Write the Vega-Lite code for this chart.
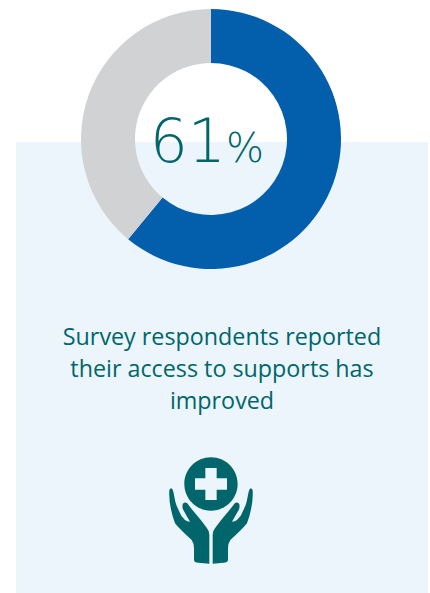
{
  "$schema": "https://vega.github.io/schema/vega-lite/v6.json",
  "width": 430,
  "height": 593,
  "padding": 0,
  "autosize": {"type": "fit", "contains": "padding"},
  "background": "white",
  "view": {"stroke": null},
  "datasets": {
    "survey": [
      {"response": "Access improved", "share": 61},
      {"response": "Other", "share": 39}
    ],
    "headline": [{"whole": "61", "unit": "%"}],
    "caption": [
      {"line": "Survey respondents reported", "row": 338},
      {"line": "their access to supports has", "row": 370},
      {"line": "improved", "row": 402}
    ],
    "panel": [{"left": 16, "right": 428, "top": 142, "bottom": 593}],
    "emblem": [{"name": "hands holding a medical cross"}]
  },
  "layer": [
    {
      "data": {"name": "panel"},
      "mark": {"type": "rect", "color": "#ecf5fb"},
      "encoding": {
        "x": {"field": "left", "type": "quantitative", "scale": {"domain": [0, 430], "nice": false, "zero": false}, "axis": null},
        "x2": {"field": "right"},
        "y": {"field": "top", "type": "quantitative", "scale": {"domain": [593, 0], "nice": false, "zero": false}, "axis": null},
        "y2": {"field": "bottom"}
      }
    },
    {
      "data": {"name": "survey"},
      "mark": {"type": "arc", "radius": 130, "radius2": 76},
      "encoding": {
        "x": {"datum": 211, "type": "quantitative"},
        "y": {"datum": 139, "type": "quantitative"},
        "theta": {"field": "share", "type": "quantitative", "stack": true},
        "order": {"field": "share", "sort": "descending"},
        "color": {
          "field": "response",
          "type": "nominal",
          "scale": {"domain": ["Access improved", "Other"], "range": ["#035eac", "#d0d2d4"]},
          "legend": null
        }
      }
    },
    {
      "data": {"name": "headline"},
      "mark": {"type": "text", "font": "DejaVu Sans", "fontWeight": 200, "fontSize": 60, "align": "right", "baseline": "alphabetic", "color": "#00666b"},
      "encoding": {
        "x": {"datum": 226, "type": "quantitative"},
        "y": {"datum": 162, "type": "quantitative"},
        "text": {"field": "whole"}
      }
    },
    {
      "data": {"name": "headline"},
      "mark": {"type": "text", "font": "DejaVu Sans", "fontWeight": 200, "fontSize": 40, "align": "left", "baseline": "alphabetic", "color": "#00666b"},
      "encoding": {
        "x": {"datum": 226, "type": "quantitative"},
        "y": {"datum": 162, "type": "quantitative"},
        "text": {"field": "unit"}
      }
    },
    {
      "data": {"name": "caption"},
      "mark": {"type": "text", "font": "Open Sans", "fontSize": 23.3, "align": "center", "baseline": "middle", "color": "#00666b"},
      "encoding": {
        "x": {"datum": 222, "type": "quantitative"},
        "y": {"field": "row", "type": "quantitative"},
        "text": {"field": "line"}
      }
    },
    {
      "data": {"name": "emblem"},
      "mark": {
        "type": "point",
        "filled": true,
        "opacity": 1,
        "color": "#00666b",
        "size": 0.444,
        "shape": "M-125,-105 Q-128,-60 -108,-5 Q-95,12 -58,45 Q-51,55 -51,70 L-51,105 Q-50,113 -38,113 L-5,116 L-5,30 Q-6,15 -13,8 L-30,-14 L-55,-44 L-72,-66 Q-82,-70 -85,-62 Q-87,-52 -83,-45 L-63,-10 Q-72,-10 -78,-15 Q-90,-25 -95,-40 Q-105,-60 -107,-70 L-113,-100 Q-118,-118 -125,-105 Z M125,-105 Q128,-60 108,-5 Q95,12 58,45 Q51,55 51,70 L51,105 Q50,113 38,113 L5,116 L5,30 Q6,15 13,8 L30,-14 L55,-44 L72,-66 Q82,-70 85,-62 Q87,-52 83,-45 L63,-10 Q72,-10 78,-15 Q90,-25 95,-40 Q105,-60 107,-70 L113,-100 Q118,-118 125,-105 Z M-80,-123 A80,80 0 1,1 80,-123 A80,80 0 1,1 -80,-123 Z M-17,-171 L-17,-140 L-48,-140 L-48,-106 L-17,-106 L-17,-75 L17,-75 L17,-106 L48,-106 L48,-140 L17,-140 L17,-171 Z"
      },
      "encoding": {
        "x": {"datum": 211, "type": "quantitative"},
        "y": {"datum": 525, "type": "quantitative"}
      }
    }
  ]
}
